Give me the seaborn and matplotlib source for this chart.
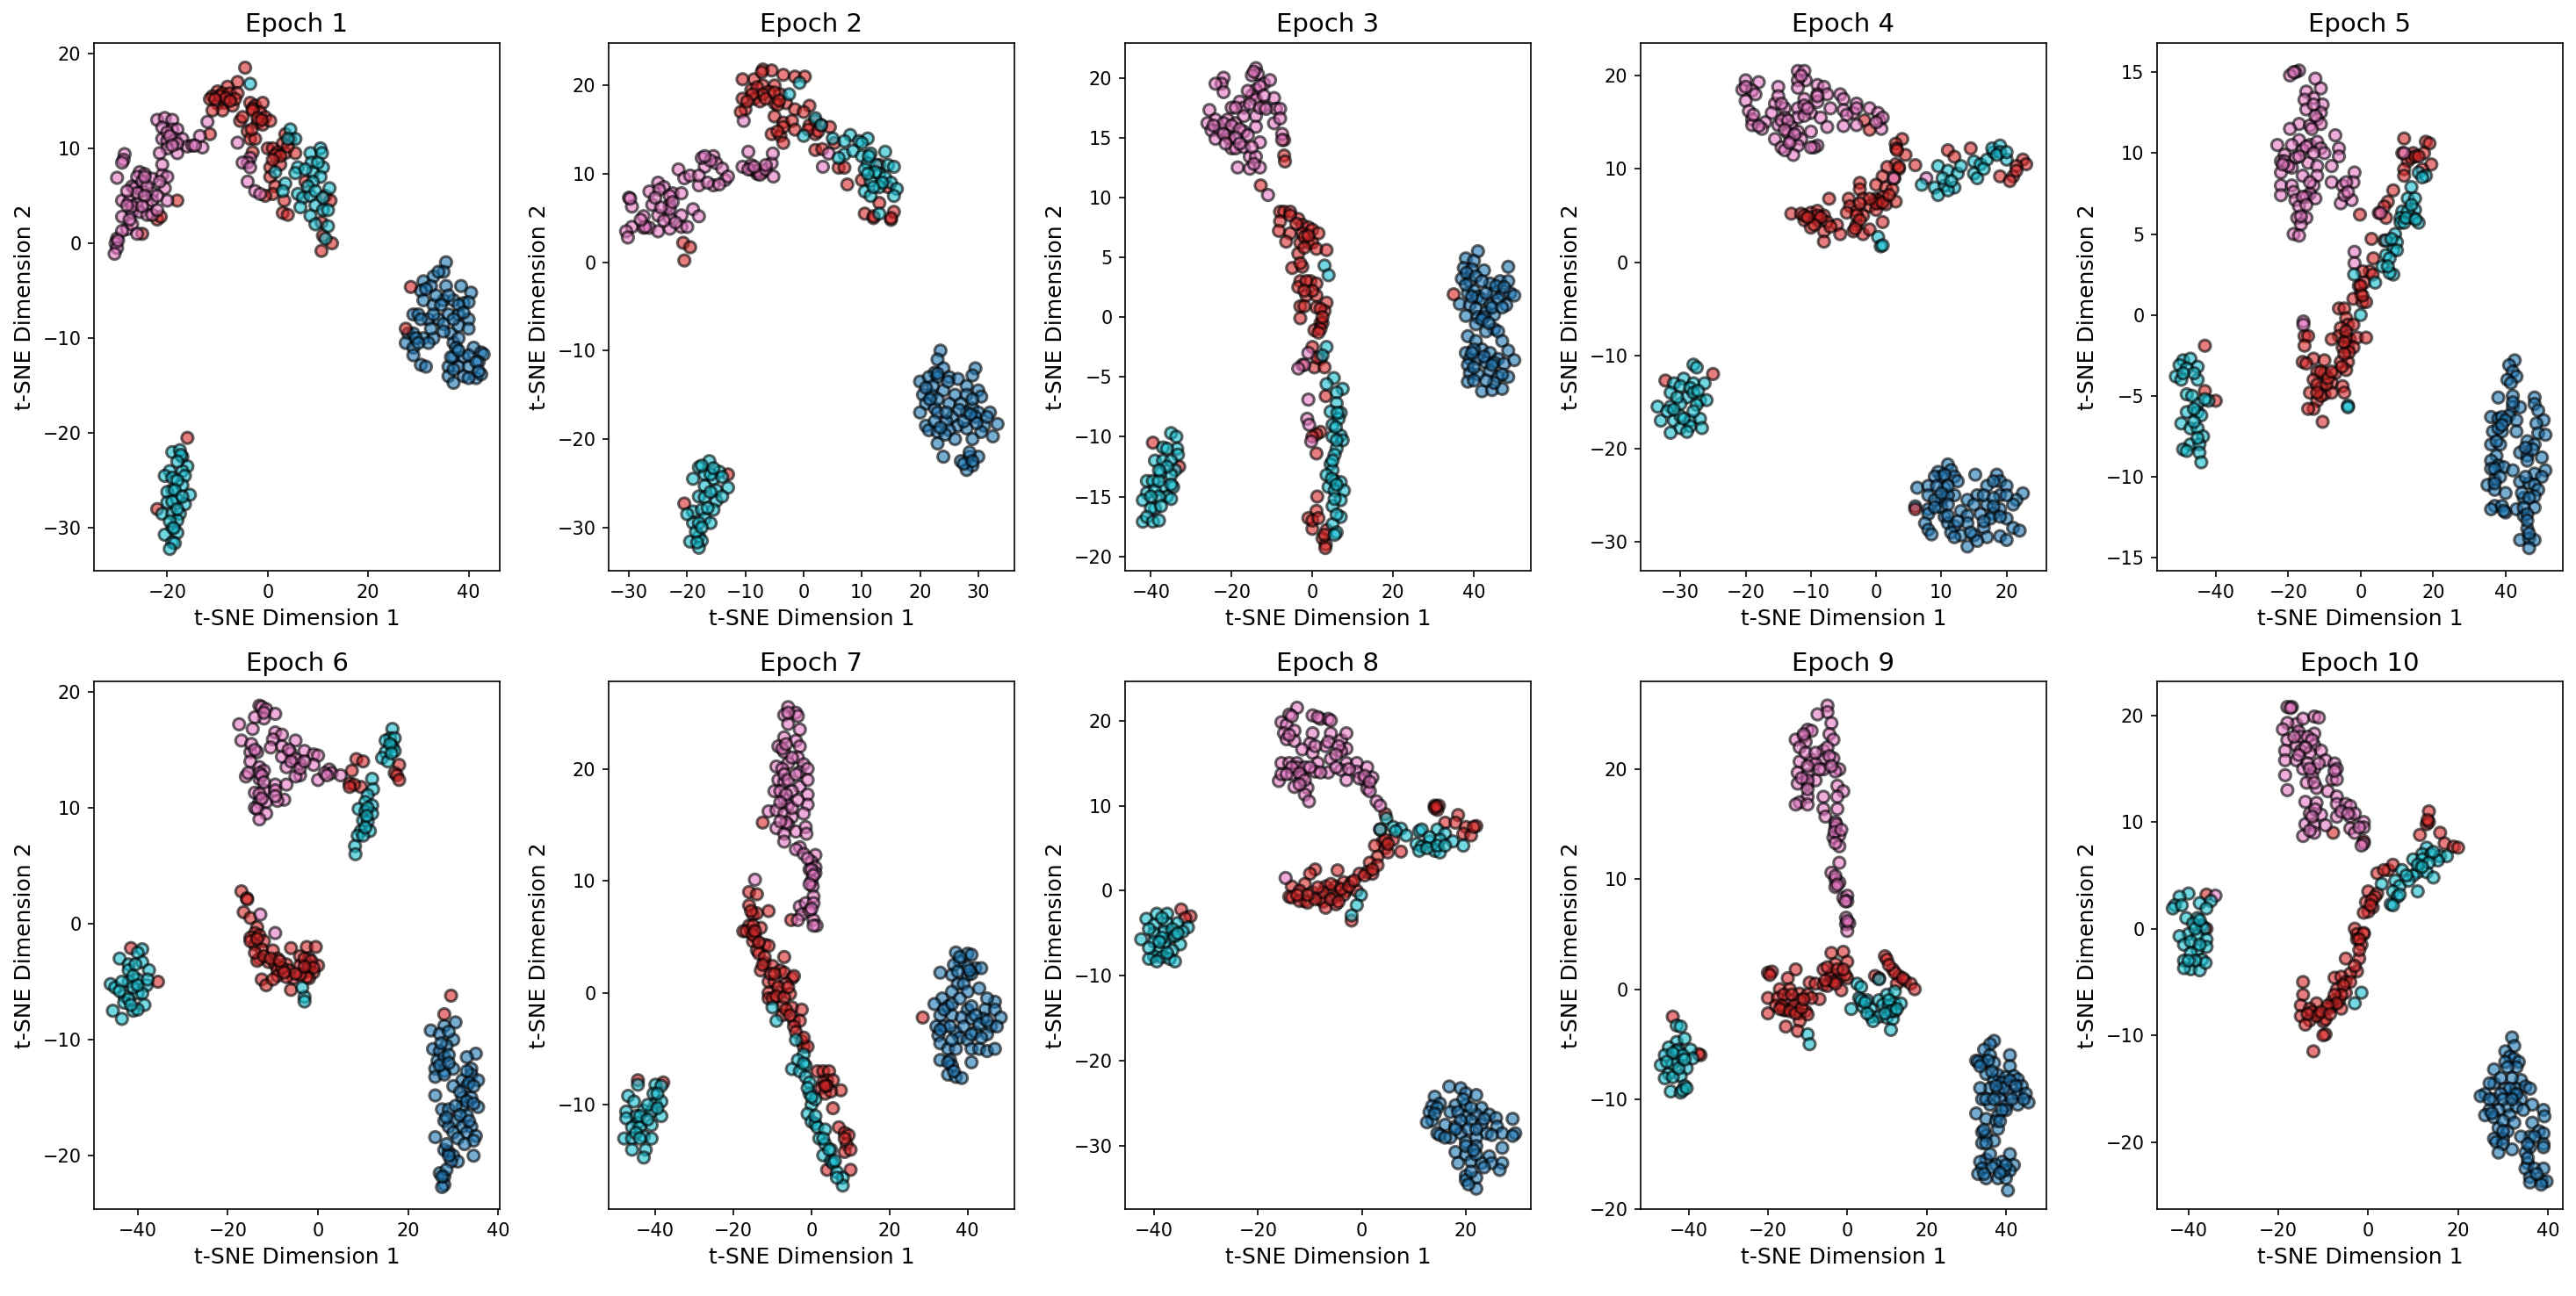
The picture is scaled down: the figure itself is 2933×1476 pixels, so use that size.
import pandas as pd
import seaborn as sns
import matplotlib
matplotlib.use('Agg')
import matplotlib.pyplot as plt

# t-SNE points, one list per epoch and class
E1_BLUE = [(35.5,-2),(35,-3),(33,-3.5),(31,-4),(30.5,-5),(32.5,-4.5),(35.5,-4.5),(38.5,-4.5),(40.5,-5.2),(31,-6),(33,-6.5),(35,-6),(37,-6),(39,-6.3),(40,-6.2),(29,-7.5),(30,-7.5),(32,-8),(34,-8),(36,-7.5),(38,-7.5),(40,-8),(28,-9.5),(29,-9.5),(31,-10),(33,-10),(35,-8.5),(36.5,-9.5),(38,-8.7),(40,-9),(27.5,-10.5),(29,-11),(32,-10.5),(37,-10.5),(38,-10),(37,-12),(39,-12),(41,-11),(42.5,-11.5),(43,-11.7),(30.5,-12.8),(31.5,-13),(36,-13),(38,-13),(40,-13),(42,-12.5),(36,-14),(37,-14.7),(39,-14),(41.5,-14.2),(42.5,-13.8),(29,-11.8),
           (34,-3),(31.5,-4.8),(33.5,-5.5),(36,-5.5),(34.5,-6.5),(38,-6.5),(30.5,-8),(33,-7.5),(37,-8),(39,-7.3),(35,-9.3),(29.5,-10),(30,-10.5),(32.5,-9),(37.5,-11),(36.5,-12),(40,-11.8),(41.5,-12.5),(37,-13.3),(42,-13.5),(40,-14.2),(38,-11.3)]
E1_RED = [(-4.5,18.5),(-6,17),(-8,16.5),(-10,16),(-11,15.5),(-9,15.8),(-7.5,15.8),(-6,15.8),(-11.5,15.2),(-10,14.7),(-8.5,14.8),(-7,14.5),(-9,14),(-11,14),(-3.5,14.8),(-2.5,14.5),(-1,14.8),(-3,14.2),(-1.5,13.8),(-0.5,13.3),(-5.5,12.9),(-2,12.7),(-1,12.5),(0.5,12.9),(-4,11.8),(-3.5,11),(-2.5,11),(-11.5,11.5),(3.5,11.5),(4.5,11),(3,10.5),(0,10),(1,10),(2,9.6),(3.5,9.5),(5.5,9.5),(-3,9.6),(0.5,8),(2.5,8.3),(0.5,7),(1.5,6),(7.5,6.5),(1,5.2),(-0.5,5),(3.3,4.5),(11.5,5),(12.5,4.5),(3,3.2),(4,3),(10.7,2.2),(-22,2.5),(-21.3,2.8),(-25,1),(-18,4.5),(11,0.8),(12.8,0),(10.7,-0.8),(28.5,-4.6),(27.5,-9),(-16,-20.5),(-22,-28),
          (-9.5,15.5),(-8.3,15.3),(-10.5,15.2),(-6.5,15.2),(-7.5,15),(-3,14),(-2,13.2),(-1.2,13),(-3.2,12),(1.5,9.3),(2.5,9.2),(1,8.8),(4,10.2),(-5,13.3)]
E1_PINK = [(-28.5,9.4),(-28.7,8.8),(-29,8.5),(-30,6.9),(-25.5,7.5),(-24.5,7.3),(-26,7),(-23,6.8),(-21,7.2),(-20,7),(-27,6),(-26.5,5.8),(-25,5.5),(-23,5.3),(-20.5,5.8),(-29,4.5),(-27.5,4.5),(-26,4.2),(-24,4),(-23,4.5),(-20,4.5),(-29,2.8),(-27,3.3),(-25.5,3.3),(-24,3),(-23,3),(-28,1.5),(-27,2),(-26,1),(-30,0.5),(-30.3,0),(-30,-0.5),(-30.5,-1.1),(-22,13),(-20.5,13.2),(-19,13),(-21,12.2),(-19,12),(-18,12),(-21,11),(-20,10.8),(-18.5,11),(-17,11),(-20,10),(-18,9.5),(-16,10.2),(-15,10.3),(-13,10.1),(-13.5,11.3),(-12,12.8),(-21.5,9.5),(-21,8.3),(-3.5,9),(-4,8.5),(-5,8.5),(-6,10.6),(-4,6.5),(-2.5,5.5),(-1.5,5.2),(-3.5,8),
           (-25,6.5),(-24,6),(-26,5.3),(-24.5,5),(-27,3.9),(-25,3.9),(-28,4),(-22,3.5),(-27.5,2.5),(-29,1.3),(-24.5,7),(-21.5,6.5),(-20,11.7),(-19.5,11.3),(-18,10.5),(-19,10.3),(-14.5,10.3),(-29.8,0.3),(-28,5.5),(-22,5)]
E1_CYAN = [(4.5,12),(5.5,11),(4,11),(8.5,9.5),(10.5,10),(10.8,9.5),(6,8),(8.7,8.5),(11,8),(5.5,7.4),(9,7.5),(10.5,7),(3.5,6.3),(3,5.5),(12.3,5.8),(6,5.2),(7,4.8),(8.5,5),(9.5,4),(6.5,3.8),(8.5,2.9),(11,3.5),(12,3.5),(9.5,2),(12,1.8),(11.5,0.5),(1.5,7.5),(-3.5,16.8),(-19,-22),(-17,-22.5),(-17.5,-21.8),(-16,-23.5),(-19.5,-24),(-17,-24),(-20.5,-24.5),(-19,-24.7),(-16.5,-24.5),(-19,-26),(-20,-26.2),(-17,-25.5),(-15.5,-26.5),(-20,-27.3),(-18,-27),(-16.5,-27.5),(-21,-28.5),(-19,-28.5),(-17.5,-28.5),(-18,-29.2),(-19,-30),(-20.5,-30.7),(-18,-30.5),(-19,-31.5),(-18.5,-31.6),(-19.5,-32.2),
           (-17.3,-22.3),(-18,-23),(-18,-25),(-18.5,-26),(-19,-27.2),(-17,-26.7),(-18,-28),(-19.5,-29.3),(-18.7,-30),(7.5,7.8),(9,6.5),(8,6),(9.5,5.5),(11,4.8),(10,8.5)]

E2_BLUE = [(23.5,-10),(23,-11),(22.5,-12.5),(24,-12),(20,-13.5),(21.5,-13),(23,-13),(25,-13),(26.5,-13.2),(29.5,-12),(29,-12.8),(28,-14),(30,-14.5),(20.5,-15),(22,-15),(24,-14.5),(26,-15),(28,-15),(30.5,-15.2),(21,-16),(22.5,-16.5),(25,-16),(27,-16),(29,-16.5),(20,-17),(23,-17),(25.5,-17.5),(28,-17),(30,-17),(32,-17),(21,-18.5),(24.5,-18),(26.5,-18.5),(29.5,-17.5),(31,-18.5),(33.3,-18.3),(21.5,-19),(23,-19.2),(25,-19),(28,-18.8),(30.5,-19.2),(32.5,-19.7),(23,-20.5),(26,-20),(29,-20),(24,-22),(27,-22.5),(28.5,-22),(30,-22),(29,-23),(28,-23.5),(27.5,-22.8),
           (23,-12.6),(22.2,-14),(21,-14.2),(23,-15.5),(21.7,-15.5),(24.8,-13.5),(26.7,-16.7),(24.5,-17),(29,-15.5),(29.7,-18.2),(27.5,-18),(22.5,-18),(24.3,-19.5),(31.5,-17.5),(28.5,-21.5),(29,-22.5),(23.5,-18.7),(28.7,-17.2)]
E2_RED = [(-7,21.8),(-5.5,21.7),(-3.5,21.2),(-1.5,21),(0.2,21),(-8.5,20.7),(-10.5,20.7),(-7,20),(-5,20),(-9,19.5),(-6,19.3),(-4,19),(-10.5,18.5),(-8.5,18.5),(-7.5,18.2),(-5,18),(-3,18),(-10,17.3),(-10.8,17),(-4.5,17.8),(1,17.7),(-1.5,17.3),(0,17),(2,16),(-5,16.5),(-3.5,15.8),(-2,16),(1,15.5),(3,15.5),(4.5,15.3),(-5.5,14.5),(-4,14.3),(-1.5,15),(2,14.5),(-3.5,13.5),(5.3,13.5),(2,12.7),(3.2,12.8),(6,10.7),(7,10.7),(7.5,8.8),(10,9.3),(13,11),(14.5,8.5),(13,6.7),(10.5,5.5),(12,5),(15,4.8),(15.5,5.7),(-20.7,2.2),(-19.5,1.7),(-20.5,0.2),(-13,-24),(-20.5,-27.3),(-8,10),(-9,10.5),(-7,10.2),
          (-8,19.8),(-7,19),(-6.5,18.5),(-8.8,19),(-5,19.2),(-4.2,18.3),(-9.7,18.2),(-3.5,15.3),(-4.5,14.8),(0.8,15),(2.5,14.8),(12,5.2),(15,5),(-7.2,21.5)]
E2_PINK = [(-30,7.3),(-29.5,6.3),(-25,9),(-26.5,8),(-24,8.5),(-22.5,7.8),(-21.5,10.5),(-20.5,9.5),(-21,7.8),(-26,6.5),(-23,6.5),(-27.5,5.2),(-25,5.3),(-23,5),(-21,5.3),(-19,6),(-18,5.2),(-29.5,4),(-27.5,3.9),(-26.5,3.9),(-25,3.5),(-23,3.8),(-21,4),(-20,4),(-30.5,3.5),(-30.2,2.8),(-19.5,9.8),(-17,10.8),(-17.5,11.8),(-15.5,12),(-15,11.2),(-14,10.6),(-18,8.7),(-15.5,8.7),(-13.5,9.3),(-13,9.7),(-10.5,10.8),(-9.5,12.5),(-9,11),(-8,10.3),(-7.5,9.9),(-6.5,10.5),(-5.5,11.2),(-5.3,12.3),(-5.2,9.7),(-10.3,16),(3.3,10.8),(4.3,12.3),
           (-29.8,7.2),(-24.8,8.2),(-23,7.5),(-23,6),(-24.5,6.2),(-25.5,7.3),(-22.5,6.8),(-27.2,4),(-28,4.8),(-24,4.7),(-22,4.5),(-16,11.5),(-18,9.8),(-16.5,9),(-14.5,8.8),(-9.5,10.5),(-8.5,10.8),(-6.5,11),(-17,12)]
E2_CYAN = [(8,14.4),(7,13.7),(9.5,13.7),(11,14),(10,13.5),(7,12.2),(8.5,12.6),(10,12),(11.5,12.3),(14,12.5),(11,11.2),(12.5,11),(14.5,11),(15.5,10.8),(10.5,10.5),(13,10),(14,9.6),(11.5,9.2),(13,8.5),(15,9),(16,8.3),(10.5,8),(11.5,7.5),(15.5,7.5),(13,5.5),(-0.7,20.3),(-2.5,19),(2,16.3),(3,15.5),(0,14.3),(5,14),(6,11.8),(-16.2,-22.5),(-18,-23.2),(-17,-24),(-14.5,-23.7),(-19,-24.5),(-15.5,-24.5),(-14,-24.3),(-17,-25.3),(-15,-25.8),(-13,-25.5),(-18,-26.5),(-17,-26.6),(-15,-27),(-14,-26.5),(-19,-28.2),(-17.5,-28),(-15.5,-28),(-19,-29.5),(-17,-29),(-16,-29.5),(-18,-31),(-19.5,-31.6),(-17.5,-31.5),(-18,-32.3),(-18.5,-30.5),(-20,-28.5),
           (11.2,12),(12.3,10.2),(11,10),(13.5,9),(12,8.5),(-16,-24),(-16,-26),(-16.5,-27.8),(-18,-29.5),(-17.5,-30),(-18.3,-31.7),(-17.5,-23),(-15.5,-23.3)]

E3_BLUE = [(41,5.5),(38,4.9),(40,4.7),(37.5,4.1),(39.5,4),(42.5,3.9),(48.5,4.2),(37,3.2),(39,3),(44,2.8),(46.5,3),(48.5,3),(38.5,2),(40,2.2),(41,1.7),(45,2),(47,1.9),(49,2),(50,1.8),(36.5,1.1),(39,1),(42,1.5),(44,1),(46,1.5),(48,1),(40.5,0.7),(43,0.4),(45,0.2),(38,0.1),(41,0),(42.5,0),(40.5,-0.6),(45,-1),(43,-1.2),(46,-1.2),(38.5,-1.6),(40.5,-2),(47,-2),(48.5,-2.8),(38,-3),(42,-2.7),(44,-3),(39,-3.5),(41,-3.5),(46,-3.5),(38.5,-4),(43,-3.8),(45,-3.8),(47.5,-3.9),(50,-3.6),(39,-4.7),(41,-4.8),(44,-4.5),(46,-5),(48.5,-5),(38.5,-5.4),(40,-5.3),(42,-6.2),(44.5,-6.1),(47,-6),
           (38.2,3.7),(40.5,3.4),(42,3),(38,2.7),(43,2),(45.5,2.6),(47.5,2.5),(39.5,1.7),(44.5,0.8),(47,0.8),(42,-0.2),(43.7,-0.5),(40,-2.7),(42.5,-3.3),(44.5,-4),(40,-4.2),(47,-4.8),(45,-5.5),(43,-5.3),(39.5,-3)]
E3_RED = [(-8,8.8),(-7,8.8),(-5.5,8.8),(-3.5,8.2),(-8,8),(-2.5,7.7),(-1,7.5),(-8.3,7.2),(-5.5,7),(-2.5,7),(0,7.3),(1.5,7),(-3,6.2),(-1,6.2),(0,6.2),(-6.5,6.3),(1,5.7),(3.5,5.6),(-3.5,5.3),(-5,4.1),(-2.5,4.2),(-3,3),(-0.5,3),(1,2.8),(-3.5,2.5),(-1.5,1.8),(1,1.8),(-3,0.9),(3.5,1.2),(1,0.8),(3,0.5),(-3,-0.1),(2,-0.5),(2.5,-0.5),(0.5,-1.1),(2,-1),(-7,14.8),(-7,13.5),(-6.8,13),(-12.8,11),(-2.5,-4),(0,-2.5),(2,-3.5),(0.5,-4.2),(3,-4.2),(3.3,-6.6),(2,-9.6),(1,-9.8),(0,-10),(1,-11.4),(-39.5,-10.5),(-33,-12.5),(1.2,-15),(1,-16.2),(-1,-16.8),(0,-17.7),(3.5,-17.8),(2.5,-18.5),(3.3,-19),(3.2,-19.3),(35,1.9),
          (-5.5,8.5),(-4,7.8),(-2,6.7),(-1,6.8),(-2,5.8),(-3,4.5),(-1.5,3),(0,2.2),(-2,2.2),(-2,0.9),(2,0.7),(2.5,0),(1.5,-1.3),(1.2,-3.4),(0,-17),(1.5,-16.8),(3,-18.2)]
E3_PINK = [(-22,20),(-22.5,19.5),(-24,19.5),(-22,18.8),(-14,20.8),(-13.5,20.3),(-15,20.2),(-12,19.5),(-10.5,19.8),(-14,19),(-15,18.5),(-18,18),(-14,18.2),(-9.5,18.3),(-25.5,17.3),(-20,17.5),(-17,17.5),(-12,17.6),(-9,17.4),(-8,17.4),(-24,16.5),(-21,16.5),(-19,16.2),(-17,16.8),(-14,16.8),(-9.5,16.2),(-8,16.6),(-26,16.2),(-25,15.6),(-23,15.6),(-21,15.2),(-17,15.5),(-14,15.9),(-24,14.9),(-20.5,14.9),(-13,14.6),(-7.5,15.3),(-7.5,14.8),(-20,14.1),(-19,14.1),(-17,14.2),(-15.5,13.4),(-14,13.4),(-18.5,12.5),(-15.5,12.4),(-13,12.5),(-11,10.2),(-1,-3),(-2,-4),(-3.5,-4.3),(-1,-6.9),(-1.3,-8.5),(-0.8,-9),(-0.3,-10.4),
           (-14.5,20.5),(-13,19.3),(-16,18.9),(-15.5,17.8),(-13,17.5),(-11.5,17.4),(-19,17.5),(-22,16.2),(-20,16),(-18,15.7),(-16,15.2),(-24.5,16),(-22,15.3),(-19,15),(-21.5,14.5),(-15,14.2),(-18,14.5),(-14.5,12.8),(-12,18.5)]
E3_CYAN = [(3,4.3),(4,3.5),(3.5,-2.5),(2.5,-3.2),(5.3,-5.1),(3.5,-5.6),(7.5,-6),(6,-6.3),(6,-7.2),(4.5,-7.9),(7,-8),(6.5,-8.5),(5,-9),(7,-9.9),(5,-10),(7.5,-10.3),(6,-11),(5.5,-11.5),(4.5,-12.3),(5,-12.8),(3.5,-13.2),(5.5,-13.7),(7,-13.8),(4,-14.2),(5.5,-14.5),(7.8,-14.5),(7,-15.3),(5,-15.8),(7,-16.7),(5,-17.3),(6,-18),(5.5,-18.2),(-35,-9.7),(-33.7,-10),(-37,-10.9),(-33.5,-11),(-33.3,-11.5),(-39,-12),(-37,-12),(-35,-12),(-37.5,-13),(-34,-12.8),(-35,-13.2),(-41,-13.7),(-39.5,-13.7),(-37,-14.2),(-34.5,-14.2),(-41,-14.7),(-39,-14.5),(-36,-15),(-42,-15.3),(-35,-15.2),(-39,-16),(-40,-16),(-42,-17.1),(-41,-16.7),(-39.5,-17.1),(-38,-17),
           (6.2,-8),(5.8,-9.2),(6,-10.3),(5,-12),(4.8,-13.5),(6,-14),(5.5,-15.2),(6,-16.5),(-36,-11),(-36,-12.5),(-38,-13.7),(-38,-15),(-40,-15),(-37.5,-15.8),(-38,-12.8),(-35,-14)]

E4_BLUE = [(11,-21.7),(11.5,-22.3),(9.5,-22.5),(10,-23),(12,-23),(9,-23),(15.2,-22.8),(12.5,-23.5),(18.5,-22.8),(19,-23.5),(6.3,-24.2),(8,-24),(10.5,-24.2),(12,-25),(17,-24),(18,-23.5),(20,-24),(8,-25),(10,-25.5),(11,-25),(15.5,-25),(14,-25.5),(19,-25),(22.5,-24.8),(21.5,-25.5),(6,-26.2),(8,-26.5),(10,-26.3),(11,-26),(13,-26.7),(17,-26),(19,-26.5),(21,-26),(8,-27),(10.5,-27.3),(14,-27.2),(16,-27),(18,-27),(20,-27.5),(7.5,-28),(11,-28),(12,-28.3),(14,-28),(16.5,-28.5),(21,-28.5),(8,-28.7),(8.5,-29.2),(11.5,-29),(13,-29.3),(15,-29.3),(17,-29.5),(19,-29.4),(20,-29.8),(14,-30.5),(15.5,-29.9),(22,-28.8),
           (10.5,-22.8),(9.3,-24),(11,-24),(9,-25.5),(10,-24.8),(16.5,-25),(18,-25.3),(20,-25),(15,-26),(18,-26.2),(9,-26.3),(11,-27.2),(12.5,-27.8),(17.5,-27.5),(19,-27.3),(16.5,-27.8),(14.5,-29),(12,-29.5)]
E4_RED = [(4,13.2),(3,12.7),(3.1,12.2),(4.5,11.5),(6,10.4),(3,10.5),(1.7,10.2),(3.5,10),(1,9.2),(2.8,9),(0,8.3),(-2.5,8.5),(1.5,8),(-2.5,7.8),(2.5,7.8),(-4.2,6.8),(-2,6.8),(0,6.8),(1,7),(3,6.5),(-4,6),(-3,5.5),(-1,6),(0.5,6.3),(1.5,6.2),(-7.2,6.8),(-13,5.2),(-11.5,5.2),(-10,5.3),(-9,5.5),(-8,5),(-4.5,5.3),(-2,5),(0,5.6),(-11,4.5),(-9,4.5),(-7.5,4.3),(-6,4),(-3,4),(1,4.3),(-10,3.7),(-8,3.3),(-5.5,3),(-3.5,3.3),(-2,3),(-1,3.5),(-8,2.2),(-1.8,15.2),(-1,14.2),(11,12),(14.5,12.2),(12,11.3),(22.5,11),(23,10.5),(21.5,10.3),(19,9.2),(21,9.2),(20.5,8.7),(-25,-12),(-32.3,-12.7),(6,-26.5),
          (3.2,12),(3.5,10.2),(0.3,6.6),(0,6.3),(1,6.4),(-1,6.8),(-2.5,6.3),(-3,5),(-2.5,4.5),(-3.2,3.6),(-11,5),(-9,5),(-8.5,4.8),(-9.5,4),(-7,3.8),(-10.5,4.8),(2,7.2),(21.5,9.8)]
E4_PINK = [(-20,19.5),(-18,19.3),(-12,20.5),(-11,20.5),(-10.8,19.5),(-12,19.5),(-20.5,18.5),(-19,18.4),(-15,18.8),(-12,18.7),(-9,19),(-8,18.8),(-18.5,18),(-9,18),(-7.5,18),(-5.5,18),(-20,17.3),(-11,17.5),(-9,17.2),(-5,17.5),(-3,17),(-15.5,17),(-14,16.5),(-7,16.5),(-5,16.3),(-19.5,16.2),(-16,16),(-12,16.5),(-10,16),(-3.5,16),(-1,16.5),(0.3,16),(-19,15.3),(-14,15.5),(-12,15.5),(-8.5,15.5),(-4.5,15.8),(0.5,15.2),(1,15.5),(-19,14.7),(-17,15),(-15,14.7),(-13,14.5),(-7.5,14.5),(-5,14.6),(-3,14.7),(-17.5,14.3),(-13.5,13.8),(-12,14),(-10,14),(0.8,14.3),(-15.5,13.2),(-13,13),(-11.5,13.2),(-9,12.5),(-14.5,12.3),(-12,12.5),(-9.5,12.3),(-12.7,11.5),(-10,12.3),(-14,12),(2.7,9),(7.7,9),
           (-11.5,20),(-15,17.8),(-14.5,17),(-11,16.8),(-9,17.8),(-18.8,15.8),(-14.5,15.2),(-13.5,15.2),(-11,15.7),(-14,14.2),(-12.5,13.7),(-13.3,12.8),(-10.5,16.5),(-3,16.5),(0,15),(-18,14.6),(-20,18.8)]
E4_CYAN = [(-28,-11),(-27.5,-11.3),(-29.5,-12.5),(-31,-13),(-28,-13),(-26.3,-13),(-31.5,-14),(-29,-14.5),(-27,-14.8),(-26,-14.8),(-33.5,-15.5),(-31.5,-15.5),(-30,-15.2),(-27.5,-15.3),(-33,-17),(-31,-17),(-28.5,-17),(-27,-16.8),(-30,-17.8),(-28.5,-17.6),(-26.7,-17.8),(-31.5,-18.3),(-29,-18.2),(0.3,2.7),(0.7,1.7),(1,1.8),(7,8.3),(9.5,10.3),(11,9.8),(12.5,9.5),(9,8),(10.5,8.2),(12,8),(9.5,7.2),(11,7.7),(13,10.3),(15,10.8),(16,10.5),(17,11),(15,9.5),(15.5,9),(18,11.8),(17.8,12.2),(19,12.5),(20,11),
           (-30,-13.3),(-28.5,-13.5),(-30.5,-14.5),(-28,-14),(-32,-16),(-30,-16.5),(-28,-16),(-29.5,-16.8),(-31,-15.8),(-27.3,-13.8),(10.2,9),(11.5,8.7),(16.5,10),(19,11.8),(18.5,11.5),(20,11.8)]

E5_BLUE = [(42.5,-2.8),(41,-3.1),(42,-3.5),(43,-3.8),(40.5,-4),(41.5,-4.2),(38,-5.1),(42,-5),(48,-5.1),(48,-5.5),(42,-5.7),(44,-5.7),(41,-6.2),(49,-5.9),(36,-6.3),(38,-6.4),(39,-6.3),(43,-6.5),(50.5,-6.5),(48.5,-6.7),(36.5,-7.2),(39,-7.2),(43,-7.2),(49,-7.3),(51,-7.4),(36,-8),(38.5,-8),(46,-7.8),(48,-8),(37.5,-8.7),(44,-8.5),(46,-8.7),(50,-8.8),(36,-9),(38,-9.3),(39.5,-9.4),(46,-9),(36,-9.5),(42,-9.6),(48,-9.8),(51,-9.6),(37,-10.2),(44,-10.3),(46.5,-10.4),(50,-10),(35,-10.5),(37,-10.8),(40,-11),(48,-10.5),(49,-10.8),(37,-11.8),(45,-11.3),(48,-11.2),(36,-12),(39,-11.8),(40,-12.2),(43,-12),(45,-12.4),(48,-11.9),(46,-13.2),(44,-13.9),(46.5,-13.8),(48,-13.9),(46.5,-14.4),
           (42,-5.4),(40,-6.5),(38,-7),(37.5,-7.8),(39,-6.8),(47.5,-8.3),(45.5,-8.2),(37,-9.5),(38.5,-10),(45.5,-10),(44.5,-11),(46.5,-11.3),(45,-11.9),(46,-12.3),(46,-12.7),(46.5,-13.5),(39.5,-12.1),(37,-10.4)]
E5_RED = [(12,10.9),(18,10.7),(19,10.6),(11.5,10),(14.5,10),(17.5,10),(13,9.5),(19.5,9.3),(12,9),(17,9),(12,8.6),(9,7.7),(7.5,7),(6.5,6.7),(7,6),(5,6.3),(-43,-1.9),(-0.2,6.2),(3,4.7),(6.5,4.6),(3.5,3.5),(2.5,2.7),(0.5,2.7),(3.3,2.5),(-0.5,1.8),(1,2),(0,1.3),(-2,1),(0.5,0.8),(1.5,0.8),(-6,0.4),(-4.5,0.4),(-4,-0.2),(-3.5,-0.6),(-2,-0.6),(-5.5,-0.8),(-6,-1.3),(-4,-1.4),(-3,-1.5),(-8,-1.5),(-1,-1.4),(1.5,-1.4),(-5,-2),(-3.5,-2),(-2,-2),(-15.5,-1.3),(-14.5,-1.3),(-15.5,-1.9),(-13,-2.7),(-10,-2.8),(-5.5,-2.9),(-3.5,-2.9),(-16,-2.9),(-15,-3),(-12,-3.5),(-10,-3.6),(-7,-3.6),(-4,-3.4),(-13,-4),(-11,-4.5),(-8,-4.2),(-5,-4.4),(-14,-4.8),(-10,-4.9),(-8,-4.8),(-4.5,-4.8),(-12,-5.3),(-13,-5.8),(-14.5,-5.8),(-10.5,-6.6),(-43,-4.7),(-40,-5.3),
          (14,9.7),(15,9.8),(16,9.8),(-4,-1),(-4.5,-1.7),(-3.2,-2.3),(-12,-4.3),(-11,-3.5),(-9.5,-4.3),(-11,-5),(-12,-4.8),(-9,-3.9),(-8,-3.5),(-4.5,-2.4),(-5.2,-3.2),(0,1.8),(0.5,1.2)]
E5_PINK = [(-17,15.1),(-18,15),(-19.5,14.8),(-12.5,14.6),(-11,14),(-15,13.8),(-13,13.4),(-15.5,13.3),(-10.5,13),(-15,12.7),(-11,12.5),(-12,12.1),(-17,11.8),(-14,11.7),(-11,11.8),(-19.5,11.5),(-7,11.1),(-17,10.8),(-14,10.5),(-12,10.7),(-23,10.5),(-19,10.5),(-16,10.2),(-11,10.3),(-6,10.3),(-21,9.9),(-18,9.7),(-10,10),(-6,9.8),(-22,9.5),(-14.5,9.4),(-19,9.1),(-12,9.2),(-8,9.2),(-22,8.8),(-1.7,8.8),(-16,8.6),(-12,8.6),(-22,8),(-19,8),(-13,8),(-8,8.2),(-5,8),(-2,8.2),(-18.5,7.6),(-14,7.5),(-22,7.4),(-18,7.1),(-15,7.3),(-12.5,7.2),(-2.5,7.1),(-17,6.7),(-5.5,6.9),(-17.5,6),(-15,6),(-16.5,5.6),(-18.5,5),(-17,4.9),(-1.7,3.9),(-1.7,3.2),(-15.8,-0.4),(-15.8,-0.6),(12,10),(5.5,6.3),(-4.5,7.4),
           (-18.5,15),(-13,13),(-12.5,12.3),(-13.5,11.5),(-21,9.5),(-20,9.2),(-15,10.4),(-13,10),(-17,9.8),(-21.5,9.3),(-14,8.2),(-16,7.3),(-15,6.8),(-16.5,6.1),(-4,8.2),(-3.5,7.6)]
E5_CYAN = [(16,8.8),(18,8.6),(14,7.9),(13,7.2),(15,7.2),(11.5,6.4),(15,6.5),(11,6),(14.5,6),(11,5.7),(12,5.7),(16,5.7),(9.5,5),(10,4.5),(7,4.6),(9,4),(7,3.7),(10,4),(6,3),(9,2.5),(8,2.6),(-1.8,2.5),(4,2),(0,0),(-3.5,-5.6),(-3.5,-5.7),(-49,-2.8),(-47,-2.7),(-50,-3.1),(-45,-3.2),(-51,-3.8),(-49.5,-4),(-45,-4),(-48,-4.9),(-45,-5.5),(-42,-5.3),(-43,-5.2),(-48,-6),(-45,-6),(-44,-6.2),(-49.5,-6.7),(-47,-7),(-45,-7),(-43.5,-7.5),(-47,-8),(-49,-8.3),(-48,-8.4),(-44.5,-8),(-44.5,-8.5),(-44,-9.1),
           (-48,-3.3),(-46,-3.6),(-49,-3.6),(-46.5,-5),(-46,-5.8),(-46,-6.6),(-45,-7.6),(8,3.5),(7.5,3),(13,6.4),(12.5,6),(14,6.8),(17,8.5),(15.2,5.9),(8.5,4.7)]

E6_BLUE = [(28,-8.8),(30.5,-8.5),(25,-9.2),(27,-9.5),(30,-10),(28.5,-10.5),(25.5,-10.8),(27,-11),(26.5,-11.8),(28,-11.5),(35,-11.2),(33,-11.5),(26,-12.5),(28,-12.7),(30,-12.5),(34,-12.5),(26,-13.2),(28,-13),(32,-13.5),(34,-13),(35.5,-13.5),(30,-14),(33,-14),(26,-14.8),(32,-15),(34,-15),(27.5,-16),(29,-16),(32,-15.8),(35.5,-15.8),(28,-17),(33,-16.5),(30.5,-17),(29,-17.5),(32,-17.5),(34,-17.5),(26,-18.4),(30,-18),(33,-18),(35,-18.3),(31,-18.5),(34.5,-18.7),(32.5,-19),(28,-19.5),(29,-19.7),(30,-20),(34.5,-20),(31,-20.5),(29.5,-20.5),(27,-21.5),(28,-21.8),(28.5,-21.2),(28,-22.5),(27.5,-22.7),
           (29,-9.3),(27.3,-10.3),(29,-11.3),(27,-12.2),(29,-12),(33,-12.7),(33.5,-13.7),(34.5,-14),(31.5,-14.5),(33,-15.3),(34.5,-15.5),(30.5,-15.7),(28.5,-16.7),(31.5,-16.5),(33.5,-17),(29,-20),(28.5,-19),(27.5,-21.8)]
E6_RED = [(-17,2.8),(-15.8,2.2),(-16.5,1),(-15,0.5),(-13.5,-0.3),(-14,-0.8),(-15,-1.2),(-13,-1),(-12,-1.5),(-14,-1.8),(-15,-1.5),(-12.5,-2.2),(-10,-2.3),(-6,-2.1),(-2.5,-2),(-0.5,-2),(-13,-3),(-11,-3.3),(-9,-3),(-4,-2.8),(-2,-3),(-13.5,-3.2),(-9.5,-3.5),(-7,-3.5),(-4,-3.6),(-2,-3.8),(0,-3.6),(-9,-4),(-6.5,-4),(-3,-4.2),(-1,-4.2),(-9,-4.5),(-5.5,-4.7),(-2,-4.7),(-12.5,-4.8),(-11.5,-5.3),(-6,-5.7),(-10,-4.8),(-7,-4.6),(7,12.1),(7.5,13.2),(8.5,14.2),(10,14),(9.5,11.8),(8,12),(18,13.7),(17,13),(17.5,12.8),(18,12.4),(-41.5,-2.1),(-35.5,-5),(29.5,-6.2),(28,-7.8),
          (-13.5,-1.3),(-14,-2.5),(-12,-2.8),(-10.5,-3),(-8,-3.8),(-8.5,-3.2),(-3,-3),(-2,-3.6),(-1.5,-3.2),(-1,-3.8),(-2.5,-4.6),(-4,-4.4),(-5,-4.3),(-7.5,-4.2),(-3,-3.7),(-15.7,2.1),(7,11.8)]
E6_PINK = [(-13,18.8),(-12.5,18.7),(-11.5,18.5),(-12,17.7),(-9.5,18.1),(-17.5,17.2),(-14,17.8),(-14.5,16.8),(-9.5,16.5),(-8,16.3),(-17,15.8),(-10,15.9),(-5,15.8),(-8,15.3),(-10.5,15.2),(-15,14.8),(-13.5,14.8),(-6,14.7),(-3,14.9),(-8,14.4),(-15,14),(-1,14.6),(0,14.5),(-4,13.8),(-7,13.5),(-13,13.5),(-12,13.2),(-1,13.7),(2.5,13.3),(3,13),(-16,12.7),(-13,12.5),(-4,12.8),(-5,12.7),(0,12.4),(5,12.8),(-9.5,12),(-7,12),(-14,11.3),(-12,11.5),(-9.5,11.5),(-13,10.5),(-11.5,10.5),(-14,10),(-13.5,9.9),(-11.5,9.5),(-13,9),(-12.8,0.8),(-9.5,-0.8),(-7.5,10.7),(-9,10.6),
           (-14.8,15.5),(-14,15),(-13,13),(-12.5,12.8),(-12,12.2),(-15.5,13),(-5,14.2),(-6,14),(-4,13.4),(-3,14),(-13,11.2),(-12.5,10.8),(-9.5,11),(1.5,13),(2,12.8),(-6.5,15),(-12,18.2)]
E6_CYAN = [(16.5,16.8),(16,16),(15,15.8),(17,16),(16.5,15.3),(15,14.8),(17,14.9),(14.2,14.3),(15.5,14),(12,12.5),(12.2,11.6),(11,11.1),(10.5,10.5),(12,10.2),(9,9.9),(10.5,9.7),(12,9.5),(10,8.9),(11,8.8),(9.5,8),(11.5,8),(8.8,7.6),(10,7.6),(8.2,6.7),(8.3,6),(-3,-6.3),(-3,-6.7),(-3.5,-5.5),(-39,-2.2),(-40,-2.5),(-44,-3),(-39,-3.3),(-42,-3.5),(-42,-4),(-37.5,-4),(-40,-4.8),(-46,-5.2),(-45,-5.5),(-38,-5.3),(-42,-5),(-40,-6),(-43,-6.2),(-39,-6),(-43,-6.8),(-45.5,-7.5),(-41,-7.5),(-38.5,-7),(-43.5,-8.2),(-40,-7.4),
           (16,15.5),(16.3,14.7),(11,10),(10.8,9.3),(10.5,8.3),(-40.5,-3.5),(-41,-4.5),(-43.5,-5),(-44,-5.8),(-41,-5.5),(-40,-5.3),(-37.8,-4.8),(-42,-6.5),(-41.5,-7)]

E7_BLUE = [(37,3.6),(40,3.5),(41,3.4),(38,2.8),(36.5,2.5),(42,2.2),(43.5,2.2),(33,1.8),(36,1.6),(40,1.6),(41,1.7),(37.5,0.8),(39,0.8),(43,0.4),(33.5,-0.5),(36,0.1),(40,0.1),(47,-0.8),(45,-0.5),(31.5,-1),(35,-1.2),(40,-1.5),(44.5,-1.5),(47,-1.5),(33,-2),(36,-2),(38.5,-2.2),(41,-2.3),(44,-2.3),(48.5,-2.2),(32,-3),(34,-3),(37,-3.5),(42,-3.5),(46,-3),(47.5,-3),(32.5,-3.8),(38,-4),(40,-4.2),(45,-3.7),(33,-4.5),(35,-5),(37,-5),(41,-5),(43,-5),(45,-5.2),(47,-5),(33,-6),(35.5,-6),(36,-6.5),(41,-6.2),(35,-7.3),(37,-7.5),(38.5,-7.6),
           (38,3.2),(40,2.3),(40.5,2),(37.5,1.9),(34,-1.5),(36,-1),(38,-0.5),(41,-1.2),(42,-2),(43,-2.8),(45,-2.5),(35.5,-3),(33,-3.3),(39,-3),(41,-3.7),(43.5,-4),(36,-4.2),(35,-6.2),(36.5,-7)]
E7_RED = [(-16,9),(-14,8.8),(-11,7.3),(-16,7.8),(-15,7),(-14,7.1),(-16,6),(-17.5,5.5),(-15.5,5.5),(-14.5,5),(-13,5.8),(-15,4.6),(-12,4.3),(-11,4.2),(-14,3.8),(-7,3.2),(-12,2.7),(-10,2.4),(-13,2),(-8,2),(-7,1.8),(-5,1.3),(-4.5,1.5),(-11,1),(-9.5,1),(-6.5,0.8),(-11,0),(-8,0),(-5.5,-0.1),(-11,-0.5),(-10,-0.5),(-7.5,-1.2),(-5,-1.3),(-2.5,-1.5),(-7.5,-2),(-4.5,-2.5),(-3,-2.5),(-4.5,-3),(-2.5,-4.3),(-2,-4.8),(-1,-4.8),(1.5,-7),(3,-7),(4.5,-7),(4,-7.8),(5.5,-7.8),(3,-8),(2.5,-8.5),(3.5,-9),(7.5,-8.7),(5,-8.8),(5.5,-10.3),(7,-12),(8.5,-12.5),(9.5,-12.7),(9,-13.5),(8.5,-14.2),(10,-14),(10,-15.8),(4,-15.8),(-38,-8),(-44.5,-7.8),(-16.7,5.5),(28.5,-2.2),(-12.5,15.2),(-5.2,6.5),
          (-15.5,7.3),(-15,6),(-15,5.2),(-14.5,5.5),(-13.5,4.5),(-13.5,3.5),(-12,3.2),(-12.5,2.5),(-10.5,1.7),(-9.5,1.7),(-8.5,0.5),(-9,-0.3),(-7,-0.4),(-6,0.5),(-6.5,-1.5),(-5.5,-2),(-4,-3.5),(-2,-4),(4,-8.3),(3.5,-8.3),(8.5,-13)]
E7_PINK = [(-6,25.5),(-4,25),(-7,24.8),(-3.5,24.7),(-6,24),(-3,23.5),(-7,22.8),(-4,22.5),(-8.5,22),(-3,22),(-7,21.5),(-3.5,21),(-6,20.5),(-2,20.4),(-9,20.2),(-7.5,20),(-3,19.7),(-1,20),(-8.5,19),(-7,18.8),(-3,18.4),(-1,19),(-9.5,18),(-5,18),(-1,17.7),(-7,17.3),(-6,16.8),(-1,16.8),(-11,16.2),(-9,16.3),(-7,16),(-5,15.7),(-2,16),(-9,14.7),(-6,15),(-4,14.4),(-1.5,14.8),(-7,14.2),(-1.3,14.2),(-7,13.5),(-3,13),(-4,12.8),(-2,12.4),(1,12.3),(0,11.7),(1,11.2),(-0.5,11),(1,10.7),(0,10),(0.3,9.5),(0.5,8.6),(-3,7.7),(-1.5,8),(0.5,8),(-2.5,7),(-0.5,7.3),(0.5,6.5),(1.3,6),(-14.5,10.1),(-3.5,6.5),(0.5,6),
           (-7.5,21.8),(-6.5,22.2),(-5,21),(-7,19.5),(-6,19),(-4,19.5),(-8,18),(-6.5,17.7),(-8,17),(-5,16.5),(-3.5,17.2),(-6.5,15.2),(-8,15.3),(-1,12),(0,11),(0.5,10.5),(-0.5,9.7),(0,7.5),(-6,25)]
E7_CYAN = [(-2,-5.5),(-3.5,-6),(-1.5,-6.5),(-5,-6.8),(-3,-7),(-1.5,-7.5),(-0.5,-8),(-0.5,-9),(0,-10),(1,-9.5),(-1,-10.8),(0,-11.5),(1,-11.7),(1.5,-12),(3.5,-12.2),(2,-13),(3.5,-13.5),(5,-14),(3,-14.5),(5,-15),(5.5,-15.2),(6.5,-16),(8,-16.5),(8,-17.2),(-10,-1.3),(-9,-2.5),(-4,-4.2),(-44.5,-8.2),(-40,-8.2),(-38.5,-8.3),(-40.5,-9),(-47,-9.2),(-45.5,-9.7),(-40,-9.9),(-38.5,-9.7),(-47.5,-10.6),(-43,-10.5),(-41,-10.6),(-45,-11),(-38.5,-11),(-47.5,-11.2),(-44.5,-11.6),(-41,-11.8),(-46,-12),(-44,-12),(-48,-13),(-46,-13),(-43,-12.8),(-46,-14),(-42.5,-14),(-43,-14.7),(-41,-13),
           (-39.5,-9),(-42,-10),(-39.5,-10.3),(-44,-11),(-42,-11.3),(-45,-12.5),(-44,-13),(-2,-6.3),(-1,-8.5),(0,-9.3),(1,-11),(3,-13),(4.5,-14),(6,-15),(6.5,-16.5)]

E8_BLUE = [(16.8,-23),(19,-23.2),(20,-23.8),(22,-24),(14,-24.2),(15,-25),(13.5,-25.3),(18,-25.2),(20,-25.2),(23,-25.5),(13,-26),(17,-26),(20,-26.5),(22,-26.3),(24.5,-26.3),(25.8,-26.7),(29,-26.8),(13.5,-27),(16,-27.5),(18,-27.7),(21,-27),(23,-27.5),(26,-27.7),(12.5,-27.2),(14.5,-28.5),(19,-28.5),(24,-28.5),(27,-28.5),(29.5,-28.5),(15,-28.7),(17,-29),(20,-29.5),(22,-29),(29,-28.8),(22,-30),(27,-30.2),(18,-30.7),(20,-31),(24.5,-31.2),(18.5,-32),(21,-31.8),(23,-32),(25,-32),(27,-32),(26.5,-32.8),(20,-33.5),(22,-33.7),(20,-34),(22,-35),
           (19.5,-24.5),(14.5,-25.5),(18.5,-26),(21,-25.5),(19,-27),(20.5,-28),(22,-28),(23.5,-26.8),(18,-28),(25,-28.7),(20,-30),(22,-31),(21.5,-30.5),(23.5,-32.5),(21,-33),(14,-26.2),(16,-29),(20.5,-34.5)]
E8_RED = [(14,10),(14.8,10),(14.5,9.5),(14,9.7),(18.5,8.9),(16,8),(18,8),(20,7.5),(22,7.6),(19.5,6.7),(21,6.5),(3.5,7.2),(4,5.8),(6,6),(2.5,5.3),(4.5,5),(5,4.5),(7.5,4.6),(3,4),(1.5,3.3),(3,3),(1,2.2),(2,2),(-0.5,2),(-9,2.5),(-4.7,2.4),(-10,2),(-13.5,0.5),(-11,0.8),(-7,0.5),(-5,0.5),(-3.5,1),(-2,1),(-12,0),(-9.5,-0.2),(-6,0),(-3,0),(-1,0),(-14,-0.7),(-13.5,-0.8),(-11,-1.2),(-8,-1),(-5,-0.7),(-3.5,-0.5),(-12,-1.2),(-10.5,-1.4),(-7.5,-1.3),(-7,-2),(-5,-1.6),(-2,-3.5),(4.5,9),(-34.8,-2.2),(-33,-3),(-34,-3.2),
          (-6,0.8),(-4,0.2),(-2.5,0.5),(-7.5,-0.2),(-9,-1),(-10.5,-0.5),(-12.5,-0.5),(-6,-1),(-4.5,-1.3),(-8.5,0.4),(-1.5,1.2),(0.5,1.8),(2,2.5),(14.3,9.9),(4.5,6),(5,5.5),(21.5,7.5)]
E8_PINK = [(-12.5,21.5),(-14,20.7),(-15.5,19.8),(-14.5,19.5),(-9.5,20.6),(-8,20.2),(-6.5,20.2),(-6,20),(-15,18.5),(-13,18.8),(-9.5,18.5),(-6,18.5),(-14.5,17.8),(-13,17.6),(-4,17.7),(-10,17.3),(-7,17),(-3,16.7),(-11.5,16.6),(-9.5,16.2),(-4,16.4),(-6,15.5),(-15.5,15),(-14,15),(-12.5,15),(-8.5,15),(-3,15),(-1,15),(-12.5,14.5),(-11,14.5),(-9,14),(-6.5,13.9),(-4,14.2),(-1,14),(1,14.5),(-16,12.9),(-15.5,13.7),(-13.5,13.7),(-11.5,13.4),(-8,13.9),(-3,13),(0.5,13),(2,13.3),(-13,12.2),(-10.5,12.1),(-11,11.3),(1,12),(1.5,11.7),(-10.2,10.5),(2.8,10.5),(3.5,10),(-14.7,1.5),(-3,18.5),
           (-13.5,20.5),(-8.5,20.4),(-14,18.3),(-9,17),(-6.5,17.5),(-4.5,17),(-5,16),(-13.5,14.5),(-12,13.8),(-10,14.5),(-11,13),(-2.5,14.3),(-0.5,13.2),(0.5,13.5),(-12,12.5),(-14.5,13.7),(1.5,12.8),(-5,14.5)]
E8_CYAN = [(4.7,8.5),(6,7.5),(7.5,7.3),(3.5,7.2),(8.5,6.5),(11,7),(11.5,7.2),(14.5,7.2),(16,6.7),(10.5,5.5),(11.5,5.2),(13,5.8),(15,6),(17.5,5.8),(19.5,5.3),(11,4.7),(14,4.7),(15,4.5),(-0.2,-0.5),(-1,-1.7),(-2,-2.9),(-41.5,-3.3),(-39.5,-2.7),(-37.5,-2.7),(-40,-4),(-37.5,-3.8),(-35.5,-3.8),(-33.5,-4.3),(-34.5,-4.8),(-40,-5),(-37,-5.5),(-42.5,-5.7),(-40,-6),(-38,-6.2),(-35,-6.3),(-39,-7),(-36.5,-7),(-40,-7.7),(-38.5,-7.8),(-41,-8),(-39.5,-8.3),(-37,-8),(-36,-8.3),
           (-38.5,-3.2),(-38,-4.8),(-36.5,-4.5),(-38.5,-5.5),(-41,-4.5),(-36,-5.3),(-37.5,-7.3),(-39,-6),(-35.5,-5),(-41,-6.7),(13,6.3),(12.5,5),(14.5,5.3),(16,5.3),(6.5,7)]

E9_BLUE = [(37,-4.7),(36,-5),(34.5,-5.5),(36,-6),(41,-6),(32.5,-6.5),(34,-6.7),(37,-6.7),(33,-6.6),(41,-7),(35,-7.7),(38,-7.8),(40,-8),(42,-7.9),(37,-8.3),(39,-8.5),(43,-8.2),(36,-9),(38,-9.3),(44,-8.8),(33.5,-9),(41,-9.5),(43,-9.5),(45,-9.5),(34,-10),(36,-10.5),(38.5,-10),(40,-10.6),(43,-10.5),(45.7,-10.3),(32.5,-11.3),(35,-11.8),(38,-11.5),(40,-11),(37.5,-12),(38,-12.7),(34,-13),(35,-13.3),(34,-14),(37,-13.8),(35,-15.5),(41,-15),(33.5,-15.7),(36,-15),(39,-15.7),(42,-16),(37.5,-16),(34,-16.3),(41,-16.5),(33,-16.8),(35,-17.2),(38,-17.2),(40,-17.2),(40.5,-18.3),
           (35.5,-6.5),(33.5,-7),(36.5,-7.5),(39.5,-9),(37.5,-8.8),(41,-8.3),(42.5,-8.8),(35,-10),(37,-10),(39,-11),(41.5,-10),(44.5,-10),(38.5,-12),(34.5,-12.8),(35,-14),(36.5,-16.2),(39.5,-16.5),(40,-16),(38.5,-16.7),(34.5,-16.8)]
E9_RED = [(-20,1.5),(-19,1.6),(-19.5,1.3),(-15,1),(-13,1.8),(-9.5,0.6),(-8,0.5),(-6,0.4),(-4,1),(-5,0.3),(-17,0),(-14.5,0),(-12,-0.4),(-10,-0.5),(-7,-0.9),(-20,-0.8),(-17.5,-0.8),(-15,-0.9),(-12,-1),(-9,-0.8),(-18,-1.5),(-15.5,-1.9),(-14,-1.8),(-10.5,-2),(-20,-2.2),(-16,-1.9),(-12,-2.2),(-10,-2.3),(-12,-2.9),(-15.5,-3.4),(-12.5,-3.8),(-6,1.8),(-4,3.3),(-1,3.4),(0,2.5),(-3,2.3),(-4,1.3),(-2,1),(0,1),(-5,2),(-1.5,-0.1),(9.5,3),(10,2.7),(-0.5,1.3),(11.5,1.8),(7,1.2),(8,1),(13,1.2),(14.5,0.8),(16,0.5),(17,0),(12.5,0.5),(-37,-6),(-37.5,-5.9),(-44,-2.5),
          (-16,-0.5),(-14,-0.5),(-13.5,-1.5),(-16.5,-1.5),(-17,-1.8),(-14.5,-2),(-13,-2.2),(-11.5,-1.7),(-3.5,0.7),(-3,0.5),(-2.5,1.8),(-1,1.8),(-5.5,0.8),(12,1.5),(14,1),(10.5,2.2),(-11,-0.9)]
E9_PINK = [(-5,25.8),(-5,25.2),(-7.5,25),(-4,24.2),(-4.5,23.2),(-10,23.6),(-9,23.5),(-11,23),(-3.5,22.7),(-13,22.7),(-10.5,22.5),(-12,22),(-6,21.7),(-3.5,21),(-12,20.7),(-9,20.9),(-6,20.9),(-2,20),(-8,20.5),(-12.5,19.7),(-10,19.5),(-6,20),(-3,19.8),(-12.5,18.7),(-10,18.7),(-8,19),(-2.5,18.5),(-1,18),(-10,17.5),(-12,17),(-6,17.5),(-2.5,17.5),(-13,16.8),(-10,16.8),(-6,16.4),(-2.5,16.4),(-5.5,15.7),(-3,15.2),(-3,14.7),(-3.5,13.8),(-2,14),(-2,13),(-2,11.5),(-4,10.6),(-3,10),(-2,9.7),(-3,9.3),(-1,8.3),(0,8.5),(0,8),(-0.3,6.5),(-0.3,5.9),(0.5,6),(0,5.3),
           (-11,23.2),(-5,22),(-4.5,21.2),(-10.5,21.5),(-10,20.3),(-8,21.5),(-10,19),(-11.5,19.2),(-7,20),(-4,20.3),(-2.8,15),(-3.2,14.3),(-3,13.3),(-1.5,14.5),(-3,10.3),(-2.5,9.5),(-0.5,8),(0,6.2),(-10,18.2)]
E9_CYAN = [(2.5,0.5),(3.5,0.2),(3,-0.8),(5,-1),(1,-1.8),(4,-1.6),(6,-1.8),(8,-1),(10,-0.5),(12,-0.2),(9,-1.4),(12,-1.3),(13.5,-1.3),(10.5,-1.5),(6,-2.5),(8,-2.5),(6.5,-2.9),(10,-2.6),(11.5,-2.7),(11,-3.7),(12,-2),(-10,-4.1),(-9.5,-5),(8,0.9),(-43,-3.3),(-42,-3.4),(-43,-4.8),(-41,-4.5),(-45,-5.3),(-42.5,-5.5),(-39.5,-5.5),(-46,-6),(-39,-6.3),(-47,-6.9),(-43,-6.5),(-40.5,-7.2),(-45,-7.7),(-42,-7.9),(-46,-8.1),(-44,-8),(-41,-8.8),(-44.5,-9.3),(-42,-9.4),(-41.5,-9.2),(-40.5,-9),
           (-43,-5.6),(-41.5,-6),(-44,-6.8),(-42.5,-7.2),(-41,-6.4),(-44,-5.8),(-45.5,-6.6),(3.5,-1),(4.5,-1.2),(5,-2.2),(10.5,-1),(11,-2),(12.5,-1.8),(9.5,-2.2)]

E10_BLUE = [(32,-10.2),(32.5,-11),(30.5,-11.5),(31.5,-12),(32.5,-12.2),(33.5,-12.5),(30.5,-12.5),(33,-13),(28,-13.2),(34,-14.2),(28,-14.5),(27,-14.5),(30.5,-15),(33,-15),(35,-14.8),(36,-15),(26,-15.5),(28,-16),(32.5,-15.5),(25,-15.7),(34,-16),(36.5,-16.5),(31,-16.7),(33,-16.7),(27,-17),(29,-17),(39,-17),(26,-17.5),(28,-17.7),(31.5,-17.5),(39.2,-17.6),(29,-18.7),(36.5,-18.2),(31,-19),(38,-19),(39,-19.2),(28,-19.7),(30,-19.7),(36,-19.5),(34,-19.5),(28.5,-20),(30,-20.2),(36,-20.5),(39,-20.2),(29,-21),(32,-20.7),(35,-21),(39,-20.5),(35.5,-22),(35,-22.5),(37,-22.5),(39,-22.5),(36,-23.3),(36,-23.8),(38.7,-23.7),(39.7,-23.7),(38.5,-24),
            (31,-13),(32,-14),(29.5,-14),(31.5,-15),(27,-16),(29.5,-15.5),(33,-15.5),(30,-16),(32,-16),(34.5,-17),(27.5,-17.3),(30,-18),(32.5,-18.2),(30,-19),(37,-19.5),(35.5,-20.2),(35.5,-21.5),(37.5,-23)]
E10_RED = [(13.5,11),(13,9.8),(13.5,10),(11.5,8.8),(16,9),(17,8),(19,7.7),(20,7.6),(2,5.2),(4.5,5.5),(5.5,6),(3.5,5.5),(0,3.5),(2,3.3),(1.5,3),(-0.5,2.5),(1,2),(0,1.6),(-1,1.5),(-3,0),(-2.5,-0.5),(-1,-0.5),(-2.5,-1),(-1.5,-1.5),(-2,-2.8),(-5,-2.8),(-2.5,-4),(-4,-4.2),(-7.5,-4.6),(-6,-4.5),(-14.5,-5),(-5,-5),(-7,-5.7),(-5,-6),(-14.5,-6.2),(-8,-6.8),(-6.5,-6.8),(-11.5,-7),(-15,-7.2),(-13,-7.5),(-8,-7.3),(-6,-7.5),(-15,-8.2),(-11,-8),(-9,-7.5),(-13,-8.6),(-10,-8.7),(-9.5,-8.5),(-14,-9),(-9.5,-9.9),(-10,-10),(-12.2,-11.5),(-36,3.2),(-36,0),(-7.8,9),(-1,8.2),(-1,-0.4),
           (13.2,10.2),(0.8,2.7),(0.5,2.2),(-2,-1),(-2,-2),(-3,-3.5),(-4,-5),(-5.5,-5.3),(-6,-6.2),(-7.5,-6.2),(-7,-7),(-9,-7.2),(-12.5,-7.8),(-11.5,-8.2),(-13.5,-8),(-10.5,-7.8),(-8.5,-8)]
E10_PINK = [(-18,20.8),(-17,20.8),(-16,19.2),(-14.5,19.7),(-12,19.9),(-11,19.8),(-18,19.3),(-19,18.7),(-15.5,18.5),(-12,18.3),(-18,17.7),(-16,17.2),(-12,17.2),(-10.5,16.7),(-18.5,16.7),(-15,16.7),(-13,16.5),(-18.5,15.8),(-16,15.8),(-9.5,15.8),(-7.5,15.5),(-7,15),(-14.5,15),(-12,15),(-18.5,14.4),(-12.5,14.3),(-8,14),(-7,14),(-13.7,13.7),(-11.5,13.2),(-18,13),(-9,12.9),(-7,12.4),(-14,11.9),(-11.5,11.8),(-7,11.7),(-5,11.7),(-4,11.5),(-13,10.8),(-10.5,10.7),(-7,10.5),(-4,10.5),(-3,10.8),(-14,9.8),(-12,9.7),(-9.5,9.7),(-1,10),(-1,9.5),(-4,9.4),(-14.5,8.7),(-12,9),(-3,9),(-1,8),(-1.5,7.8),(-34,3.1),
            (-17.3,20.7),(-15,18),(-13.5,18),(-16.5,18),(-12.5,17.7),(-14,17),(-15.5,16.3),(-13.5,15.5),(-11,15.5),(-13,15),(-12,13.7),(-11.8,11.2),(-12.5,10.5),(-6,11),(-4.5,10.8),(-13,9.2),(-2,9.5),(-7.5,14.8)]
E10_CYAN = [(13,7.6),(12,7),(14,7),(16,6.8),(17.5,6.8),(10,6.5),(12,6.5),(15.5,6.4),(7.5,5.5),(11,5.3),(13,5.3),(10,5),(14.5,4.8),(6,4.5),(3,4.2),(7,4),(9,4.5),(5.5,3.5),(6.5,3),(11,3.5),(5,2.3),(5.5,2.2),(-1.5,-6),(-3,-7),(-40,3.3),(-42,3),(-43,2.2),(-37.5,2.4),(-35,2.6),(-43.5,1.9),(-36,1.9),(-40.5,1),(-38,1),(-37,0.3),(-36.5,0),(-40,-0.5),(-38,-0.7),(-42,-0.7),(-36,-1),(-41,-1.5),(-38,-2),(-36,-1.7),(-41,-3),(-37,-2.9),(-39.5,-3.8),(-37.5,-3.9),(-41,-3.7),(-36.2,-3.2),
            (-39,0.5),(-38.5,0),(-39.5,-1.2),(-37.5,-1.5),(-39.5,-2.3),(-38.5,-3),(-40,-3),(-37.5,0.8),(-41.5,2.2),(13.5,6.2),(11,6),(12,5.8),(8.5,5),(7,3.2),(14.5,7.2)]

EPOCHS = [
    (E1_BLUE, E1_RED, E1_PINK, E1_CYAN),
    (E2_BLUE, E2_RED, E2_PINK, E2_CYAN),
    (E3_BLUE, E3_RED, E3_PINK, E3_CYAN),
    (E4_BLUE, E4_RED, E4_PINK, E4_CYAN),
    (E5_BLUE, E5_RED, E5_PINK, E5_CYAN),
    (E6_BLUE, E6_RED, E6_PINK, E6_CYAN),
    (E7_BLUE, E7_RED, E7_PINK, E7_CYAN),
    (E8_BLUE, E8_RED, E8_PINK, E8_CYAN),
    (E9_BLUE, E9_RED, E9_PINK, E9_CYAN),
    (E10_BLUE, E10_RED, E10_PINK, E10_CYAN),
]
CLASSES = ['blue', 'red', 'pink', 'cyan']
PALETTE = {'blue': '#1f77b4', 'red': '#d62728', 'pink': '#e377c2', 'cyan': '#17becf'}
XLIMS = [(-34.6, 46.2), (-33.5, 36.2), (-46.4, 54.1), (-36.1, 26.1), (-56.2, 55.8),
         (-49.7, 40.3), (-52, 52), (-45.6, 32.5), (-52.1, 50.2), (-47, 43.3)]
YLIMS = [(-34.5, 21.1), (-34.9, 24.8), (-21.2, 22.9), (-33.1, 23.5), (-15.8, 16.8),
         (-24.6, 20.9), (-19.3, 27.8), (-37.4, 24.6), (-20, 28), (-26.3, 23.2)]

# axes edges in pixels, the panels are not quite evenly spaced
W, H = 2933, 1476
LEFTS = [107, 693, 1281, 1868, 2456]
AX_W = 462
TOPS = [49, 776]
AX_H = 601

fig = plt.figure(figsize=(W / 150, H / 150), dpi=150)
for i, groups in enumerate(EPOCHS):
    row, col = divmod(i, 5)
    ax = fig.add_axes([LEFTS[col] / W, 1 - (TOPS[row] + AX_H) / H, AX_W / W, AX_H / H])
    frames = [pd.DataFrame(pts, columns=['x', 'y']).assign(label=name)
              for name, pts in zip(CLASSES, groups)]
    df = pd.concat(frames, ignore_index=True)
    sns.scatterplot(data=df, x='x', y='y', hue='label', palette=PALETTE, s=40, alpha=0.6,
                    edgecolor='k', linewidth=1.5, legend=False, ax=ax)
    ax.set_xlim(XLIMS[i])
    ax.set_ylim(YLIMS[i])
    ax.set_title(f'Epoch {i + 1}', fontsize=14)
    ax.set_xlabel('t-SNE Dimension 1', fontsize=12)
    ax.set_ylabel('t-SNE Dimension 2', fontsize=12)

fig.savefig('out.png', dpi=150)
